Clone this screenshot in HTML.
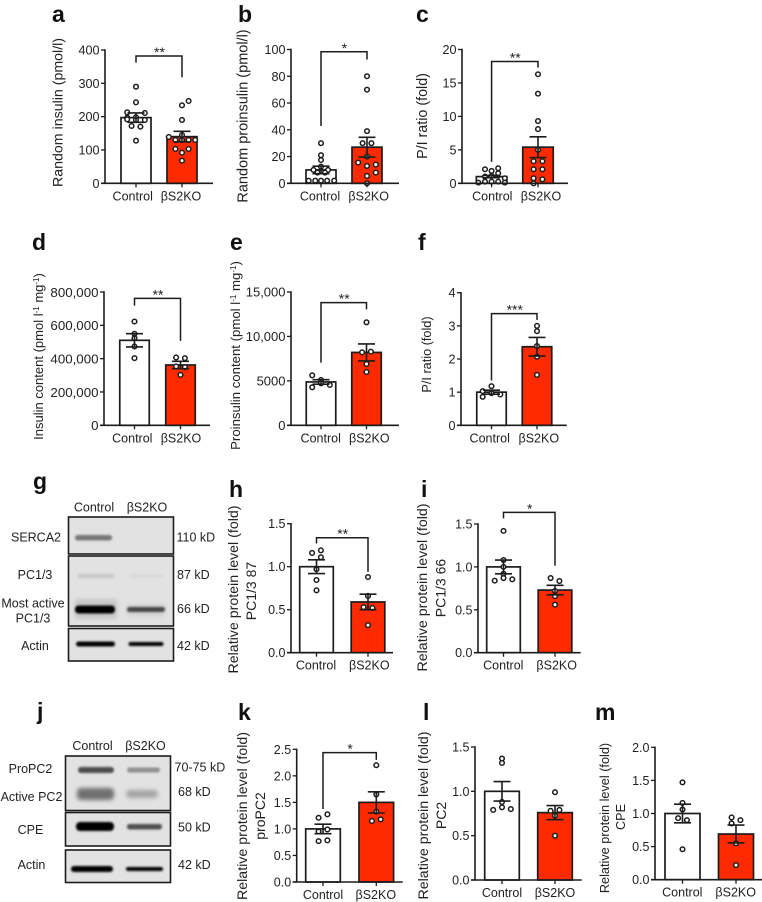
<!DOCTYPE html>
<html lang="en">
<head>
<meta charset="utf-8">
<title>Insulin and proinsulin bar charts with western blots</title>
<style>
html,body{margin:0;padding:0;background:#fff;}
svg{display:block;font-family:"Liberation Sans",Arial,sans-serif;}
text{fill:#222;}
.letter{font-size:23px;font-weight:700;fill:#111;}
.ytitle{font-size:13.3px;text-anchor:middle;}
.blot-label{font-size:12.5px;text-anchor:middle;}
.blot-kd{font-size:12.5px;}
.blot-frame{fill:#e2e2e2;stroke:#1c1c1c;stroke-width:1.6;}
</style>
</head>
<body>
<svg id="figure" width="762" height="902" viewBox="0 0 762 902" xmlns="http://www.w3.org/2000/svg">
<defs>
<filter id="b1" x="-20%" y="-100%" width="140%" height="300%"><feGaussianBlur stdDeviation="1.1"/></filter>
<filter id="b2" x="-20%" y="-100%" width="140%" height="300%"><feGaussianBlur stdDeviation="2"/></filter>
<clipPath id="clipg2"><rect x="68" y="556" width="105" height="70"/></clipPath>
</defs>
<rect width="762" height="902" fill="#fff"/>

<g>
<text class="letter" x="52" y="22">a</text>
<text class="letter" x="238" y="22">b</text>
<text class="letter" x="416" y="22">c</text>
<text class="letter" x="32" y="250">d</text>
<text class="letter" x="230" y="250">e</text>
<text class="letter" x="418" y="250">f</text>
<text class="letter" x="33" y="489">g</text>
<text class="letter" x="229" y="497">h</text>
<text class="letter" x="421" y="497">i</text>
<text class="letter" x="37" y="719">j</text>
<text class="letter" x="238" y="720">k</text>
<text class="letter" x="423" y="720">l</text>
<text class="letter" x="595" y="720">m</text>
</g>

<g>
<text class="ytitle" style="font-size:14.2px" transform="translate(62.5,112.5) rotate(-90)">Random insulin (pmol/l)</text>
<text class="ytitle" style="font-size:14.5px" transform="translate(247.5,116) rotate(-90)">Random proinsulin (pmol/l)</text>
<text class="ytitle" style="font-size:14.3px" transform="translate(427,116) rotate(-90)">P/I ratio (fold)</text>
<text class="ytitle" style="font-size:13px" transform="translate(43,356.5) rotate(-90)">Insulin content (pmol l<tspan font-size="8" dy="-4">-1</tspan><tspan dy="4"> mg</tspan><tspan font-size="8" dy="-4">-1</tspan><tspan dy="4">)</tspan></text>
<text class="ytitle" style="font-size:13.2px" transform="translate(240,355.5) rotate(-90)">Proinsulin content (pmol l<tspan font-size="8" dy="-4">-1</tspan><tspan dy="4"> mg</tspan><tspan font-size="8" dy="-4">-1</tspan><tspan dy="4">)</tspan></text>
<text class="ytitle" style="font-size:12.7px" transform="translate(431,354.5) rotate(-90)">P/I ratio (fold)</text>
<text class="ytitle" style="font-size:14.2px" transform="translate(238,589.5) rotate(-90)">Relative protein level (fold)</text>
<text class="ytitle" style="font-size:14px" transform="translate(256,591) rotate(-90)">PC1/3 87</text>
<text class="ytitle" style="font-size:14.2px" transform="translate(427,587.5) rotate(-90)">Relative protein level (fold)</text>
<text class="ytitle" style="font-size:14px" transform="translate(445.5,588) rotate(-90)">PC1/3 66</text>
<text class="ytitle" style="font-size:14.2px" transform="translate(247,816) rotate(-90)">Relative protein level (fold)</text>
<text class="ytitle" style="font-size:14px" transform="translate(265,816) rotate(-90)">proPC2</text>
<text class="ytitle" style="font-size:14.2px" transform="translate(428,815.5) rotate(-90)">Relative protein level (fold)</text>
<text class="ytitle" style="font-size:14px" transform="translate(446,815.5) rotate(-90)">PC2</text>
<text class="ytitle" style="font-size:12.7px" transform="translate(609,818) rotate(-90)">Relative protein level (fold)</text>
<text class="ytitle" style="font-size:12.7px" transform="translate(625,817) rotate(-90)">CPE</text>
</g>

<g>
<text class="blot-label" x="94" y="511.5">Control</text>
<text class="blot-label" x="147" y="511.5">βS2KO</text>
<rect class="blot-frame" x="68.5" y="517" width="105" height="37"/>
<rect class="blot-frame" x="68.5" y="556" width="105" height="70"/>
<rect class="blot-frame" x="68.5" y="628.5" width="105" height="32.5"/>
<g clip-path="url(#clipg2)">
<rect x="75" y="599" width="42" height="20" fill="#c8c8c8" filter="url(#b2)"/>
<rect x="127" y="604" width="38" height="12" fill="#d2d2d2" filter="url(#b2)"/>
</g>
<rect x="75" y="535" width="37" height="5.5" rx="2.5" fill="#777" filter="url(#b1)"/>
<rect x="78" y="574" width="36" height="4" rx="2" fill="#c6c6c6" filter="url(#b1)"/>
<rect x="130" y="574.5" width="34" height="3" rx="1.5" fill="#d8d8d8" filter="url(#b1)"/>
<rect x="75" y="605.5" width="40" height="8" rx="3.5" fill="#000" filter="url(#b1)"/>
<rect x="127" y="607" width="38" height="5" rx="2.5" fill="#444" filter="url(#b1)"/>
<rect x="76" y="641.5" width="39" height="5" rx="2.5" fill="#000" filter="url(#b1)"/>
<rect x="128.5" y="642" width="35" height="4" rx="2" fill="#000" filter="url(#b1)"/>
<text class="blot-label" x="36" y="541.5">SERCA2</text>
<text class="blot-label" x="35" y="579">PC1/3</text>
<text class="blot-label" x="33" y="607.5">Most active</text>
<text class="blot-label" x="33" y="622.5">PC1/3</text>
<text class="blot-label" x="35" y="650">Actin</text>
<text class="blot-kd" x="176.5" y="541.5">110 kD</text>
<text class="blot-kd" x="177" y="579">87 kD</text>
<text class="blot-kd" x="177" y="613">66 kD</text>
<text class="blot-kd" x="177" y="650">42 kD</text>
</g>

<g>
<text class="blot-label" x="92.5" y="750">Control</text>
<text class="blot-label" x="145.5" y="750">βS2KO</text>
<rect class="blot-frame" x="65.5" y="756" width="105" height="54.5"/>
<rect class="blot-frame" x="65.5" y="812.5" width="105" height="33.5"/>
<rect class="blot-frame" x="65.5" y="850" width="105" height="32.5"/>
<rect x="78" y="767" width="36" height="6" rx="3" fill="#4c4c4c" filter="url(#b1)"/>
<rect x="127" y="767.5" width="33" height="5" rx="2.5" fill="#909090" filter="url(#b1)"/>
<rect x="77" y="788" width="37" height="12" rx="4" fill="#707070" filter="url(#b2)"/>
<rect x="126" y="790" width="32" height="8" rx="4" fill="#a4a4a4" filter="url(#b2)"/>
<rect x="76" y="822" width="38" height="9" rx="4" fill="#000" filter="url(#b1)"/>
<rect x="127" y="824" width="35" height="5.5" rx="2.5" fill="#505050" filter="url(#b1)"/>
<rect x="71" y="866" width="42" height="6" rx="3" fill="#000" filter="url(#b1)"/>
<rect x="126" y="867" width="37" height="4" rx="2" fill="#000" filter="url(#b1)"/>
<text class="blot-label" x="30.5" y="773">ProPC2</text>
<text class="blot-label" x="31.5" y="801">Active PC2</text>
<text class="blot-label" x="30.5" y="834">CPE</text>
<text class="blot-label" x="31.5" y="869">Actin</text>
<text class="blot-kd" x="174.5" y="771.5">70-75 kD</text>
<text class="blot-kd" x="178" y="796">68 kD</text>
<text class="blot-kd" x="178" y="831.5">50 kD</text>
<text class="blot-kd" x="178" y="869">42 kD</text>
</g>
<g id="charts"></g>
</svg>

<script>
const categories = ['Control', 'βS2KO'];

const aTicks = [0, 100, 200, 300, 400];
const aTickLabels = ['0', '100', '200', '300', '400'];
const aMeans = [197, 140];
const aErrors = [14, 16];
const aControlValues = [290, 243, 213, 211, 198, 197, 192, 190, 172, 170, 128, 190];
const aControlSlots = [0, 0, -2, 2, 0, -2, -2, 2, -1, 1, 0, 0];
const aKoValues = [247, 234, 190, 145, 139, 130, 130, 130, 130, 103, 103, 92, 68];
const aKoSlots = [1.5, 0, 0, 0, -3, 3, -1.5, 0, 1.5, -1.5, 1.5, 0, 0];
const aBracket = [382, 362, 318];

const bTicks = [0, 20, 40, 60, 80, 100];
const bTickLabels = ['0', '20', '40', '60', '80', '100'];
const bMeans = [10, 27];
const bErrors = [2.8, 7.4];
const bControlValues = [30, 21, 17.4, 12.4, 10, 10, 8, 8, 2, 2, 2, 2, 2];
const bControlSlots = [0, 0, 0, 0, -1.7, 1.6, -0.8, 0.9, -2.8, -1.3, 0, 1.4, 3];
const bKoValues = [80, 70, 39, 30, 30, 20, 15.5, 13, 14, 8, 5.5, 0];
const bKoSlots = [0, 0, 0, -1, 1, 0, -2, 0, 2, 2, 0, 0];
const bBracket = [98.3, 42.8, 92.5];

const cTicks = [0, 5, 10, 15, 20];
const cTickLabels = ['0', '5', '10', '15', '20'];
const cMeans = [1, 5.4];
const cErrors = [0.17, 1.55];
const cControlValues = [2.1, 1.85, 2.25, 1.5, 1, 1.1, 0.1, 0.25, 0.25, 0.25, 0.75, 0.1];
const cControlSlots = [-1.5, 0, 1.5, 1.5, -1.5, 0, -3, -1.5, 0, 1.5, 3, 3];
const cKoValues = [16.3, 13.4, 9.3, 8.1, 5, 3.3, 3.3, 2.1, 2.1, 0.75, 0.6, 0];
const cKoSlots = [0, 0, 0, 0, 0, -1, 1, -1, 1, -1, 1, -1];
const cBracket = [18.2, 3.2, 17.3];

const dTicks = [0, 200000, 400000, 600000, 800000];
const dTickLabels = ['0', '200,000', '400,000', '600,000', '800,000'];
const dMeans = [510000, 362000];
const dErrors = [40000, 22000];
const dControlValues = [623000, 549000, 523000, 473000, 403000];
const dControlSlots = [0, 0, 0, 0, 0];
const dKoValues = [407000, 403000, 353000, 349000, 303000];
const dKoSlots = [-1, 1, -1, 1, 0];
const dBracket = [762000, 718000, 507000];

const eTicks = [0, 5000, 10000, 15000];
const eTickLabels = ['0', '5000', '10,000', '15,000'];
const eMeans = [4880, 8200];
const eErrors = [250, 960];
const eControlValues = [5625, 5100, 4275, 4725, 4540];
const eControlSlots = [-2, 0, -2, 0, 2];
const eKoValues = [11590, 8210, 8290, 6900, 6000];
const eKoSlots = [0, -1, 1, 0, 0];
const eBracket = [13800, 7050, 13050];

const fTicks = [0, 1, 2, 3, 4];
const fTickLabels = ['0', '1', '2', '3', '4'];
const fMeans = [1, 2.37];
const fErrors = [0.06, 0.28];
const fControlValues = [1.18, 1.03, 0.97, 0.86, 0.93];
const fControlSlots = [0, -2, 0, -2, 2];
const fKoValues = [3, 2.84, 2.39, 2.07, 1.52];
const fKoSlots = [0, 0, 0, 0, 0];
const fBracket = [3.37, 1.35, 3.18];

const hTicks = [0, 0.5, 1, 1.5];
const hTickLabels = ['0.0', '0.5', '1.0', '1.5'];
const hMeans = [1, 0.59];
const hErrors = [0.08, 0.09];
const hControlValues = [1.19, 1.16, 1.11, 0.97, 0.845, 0.725];
const hControlSlots = [1, -1, 1, 0, 0, 0];
const hKoValues = [0.88, 0.66, 0.53, 0.52, 0.32];
const hKoSlots = [0, 0, -1, 1, 0];
const hBracket = [1.337, 1.27, 0.94];

const iTicks = [0, 0.5, 1, 1.5];
const iTickLabels = ['0.0', '0.5', '1.0', '1.5'];
const iMeans = [1, 0.73];
const iErrors = [0.08, 0.055];
const iControlValues = [1.42, 1.08, 1, 0.92, 0.87, 0.84, 0.855];
const iControlSlots = [0, 0, 0, 0, 0, -2, 2];
const iKoValues = [0.87, 0.835, 0.72, 0.66, 0.56];
const iKoSlots = [-1, 1, 0, 0, 0];
const iBracket = [1.636, 1.566, 1.014];

const kTicks = [0, 0.5, 1, 1.5, 2, 2.5];
const kTickLabels = ['0.0', '0.5', '1.0', '1.5', '2.0', '2.5'];
const kMeans = [1, 1.5];
const kErrors = [0.09, 0.2];
const kControlValues = [1.21, 1.275, 0.95, 0.99, 0.77, 0.785];
const kControlSlots = [-1, 1, -1, 1, -1, 1];
const kKoValues = [2.2, 1.65, 1.325, 1.15, 1.18];
const kKoSlots = [0, 0, 0, -1, 1];
const kBracket = [2.437, 1.376, 2.3];

const lTicks = [0, 0.5, 1, 1.5];
const lTickLabels = ['0.0', '0.5', '1.0', '1.5'];
const lMeans = [1, 0.76];
const lErrors = [0.11, 0.08];
const lControlValues = [1.37, 1.32, 0.88, 0.82, 0.79, 0.8];
const lControlSlots = [0, 0, 0, 0, -2, 2];
const lKoValues = [0.99, 0.78, 0.79, 0.725, 0.5];
const lKoSlots = [0, -1, 1, 0, 0];
const lBracket = null;

const mTicks = [0, 0.5, 1, 1.5, 2];
const mTickLabels = ['0.0', '0.5', '1.0', '1.5', '2.0'];
const mMeans = [1, 0.69];
const mErrors = [0.14, 0.135];
const mControlValues = [1.47, 1.16, 1.06, 0.93, 0.9, 0.46];
const mControlSlots = [0, 0, 0, -1, 1, 0];
const mKoValues = [0.94, 0.9, 0.85, 0.55, 0.22];
const mKoSlots = [-1, 1, -1, 0, 0];
const mBracket = null;

const SVGNS = 'http://www.w3.org/2000/svg';
const INK = '#1c1c1c';
const RED = '#ff2a00';
const SLOT_STEP = 4.4;

function make(tag, attrs, parent) {
  const node = document.createElementNS(SVGNS, tag);
  Object.keys(attrs).forEach(function (k) { node.setAttribute(k, attrs[k]); });
  parent.appendChild(node);
  return node;
}

function drawPanel(p) {
  const root = document.getElementById('charts');
  const g = make('g', {}, root);
  
  

  const yMax = p.ticks[p.ticks.length - 1];
  const yScale = function (v) { return p.y0 - (v / yMax) * (p.y0 - p.yTop); };
  const xScale = function (i) { return p.centers[i]; };

  p.means.forEach(function (m, i) {
    const bar = make('rect', {
      x: xScale(i) - p.barW / 2, y: yScale(m), width: p.barW, height: p.y0 - yScale(m),
      fill: i === 0 ? '#fff' : RED, stroke: INK, 'stroke-width': 1.7
    }, g);
    
    
  });

  [[p.control, p.controlSlots, 0], [p.ko, p.koSlots, 1]].forEach(function (s) {
    s[0].forEach(function (v, j) {
      const dot = make('circle', {
        cx: xScale(s[2]) + s[1][j] * SLOT_STEP, cy: yScale(v), r: 2.3,
        fill: '#fff', stroke: INK, 'stroke-width': 1.5
      }, g);
      
      
    });
  });

  p.means.forEach(function (m, i) {
    const cx = xScale(i);
    const hi = yScale(m + p.errors[i]);
    const lo = yScale(m - p.errors[i]);
    const err = make('path', {
      d: 'M' + (cx - 8.5) + ' ' + hi + 'H' + (cx + 8.5) + 'M' + cx + ' ' + hi + 'V' + lo +
         'M' + (cx - 8.5) + ' ' + lo + 'H' + (cx + 8.5),
      fill: 'none', stroke: INK, 'stroke-width': 1.6
    }, g);
    
    
  });

  const yAxis = make('path', {
    d: 'M' + p.axisX + ' ' + (p.yTop - 0.7) + 'V' + p.y0,
    fill: 'none', stroke: INK, 'stroke-width': 1.6
  }, g);
  
  

  const xAxis = make('path', {
    d: 'M' + (p.axisX - 4) + ' ' + p.y0 + 'H' + p.xEnd,
    fill: 'none', stroke: INK, 'stroke-width': 1.6
  }, g);
  
  

  p.ticks.forEach(function (t, i) {
    const tick = make('path', {
      d: 'M' + (p.axisX - 4) + ' ' + yScale(t) + 'H' + p.axisX,
      fill: 'none', stroke: INK, 'stroke-width': 1.3
    }, g);
    
    

    const label = make('text', {
      x: p.axisX - 5.5, y: yScale(t) + p.tickFont * 0.36, 'text-anchor': 'end',
      'font-size': p.tickFont
    }, g);
    label.textContent = p.tickLabels[i];
    
    
  });

  categories.forEach(function (c, i) {
    const tick = make('path', {
      d: 'M' + xScale(i) + ' ' + p.y0 + 'V' + (p.y0 + 4),
      fill: 'none', stroke: INK, 'stroke-width': 1.3
    }, g);
    
    

    const label = make('text', {
      x: xScale(i) + p.labelShift[i], y: p.y0 + 17, 'text-anchor': 'middle', 'font-size': 12.5
    }, g);
    label.textContent = c;
    
    
  });

  if (p.bracket) {
    const top = yScale(p.bracket[0]);
    const bracket = make('path', {
      d: 'M' + xScale(0) + ' ' + yScale(p.bracket[1]) + 'V' + top + 'H' + xScale(1) + 'V' + yScale(p.bracket[2]),
      fill: 'none', stroke: INK, 'stroke-width': 1.5
    }, g);
    
    

    const stars = make('text', {
      x: (xScale(0) + xScale(1)) / 2 + 0.5, y: top + 1, 'text-anchor': 'middle', 'font-size': 14
    }, g);
    stars.textContent = p.stars;
    
    
  }
}

drawPanel({ id: 'a', axisX: 105, yTop: 50, y0: 183.3, xEnd: 213, centers: [136, 182], barW: 30, tickFont: 12.6, labelShift: [-3.3, -1], ticks: aTicks, tickLabels: aTickLabels, means: aMeans, errors: aErrors, control: aControlValues, controlSlots: aControlSlots, ko: aKoValues, koSlots: aKoSlots, bracket: aBracket, stars: '**' });
drawPanel({ id: 'b', axisX: 291, yTop: 49.5, y0: 183.3, xEnd: 399, centers: [321, 367], barW: 30, tickFont: 12.6, labelShift: [-1, 1.7], ticks: bTicks, tickLabels: bTickLabels, means: bMeans, errors: bErrors, control: bControlValues, controlSlots: bControlSlots, ko: bKoValues, koSlots: bKoSlots, bracket: bBracket, stars: '*' });
drawPanel({ id: 'c', axisX: 462, yTop: 49.5, y0: 183.3, xEnd: 568, centers: [491.6, 538], barW: 30.5, tickFont: 12.6, labelShift: [0.7, 3], ticks: cTicks, tickLabels: cTickLabels, means: cMeans, errors: cErrors, control: cControlValues, controlSlots: cControlSlots, ko: cKoValues, koSlots: cKoSlots, bracket: cBracket, stars: '**' });
drawPanel({ id: 'd', axisX: 104, yTop: 292, y0: 425.3, xEnd: 210, centers: [134.5, 180.5], barW: 29.5, tickFont: 13.3, labelShift: [-2.2, 0.5], ticks: dTicks, tickLabels: dTickLabels, means: dMeans, errors: dErrors, control: dControlValues, controlSlots: dControlSlots, ko: dKoValues, koSlots: dKoSlots, bracket: dBracket, stars: '**' });
drawPanel({ id: 'e', axisX: 291, yTop: 292, y0: 425.3, xEnd: 399, centers: [321, 366.5], barW: 29.5, tickFont: 13, labelShift: [-0.3, 2.8], ticks: eTicks, tickLabels: eTickLabels, means: eMeans, errors: eErrors, control: eControlValues, controlSlots: eControlSlots, ko: eKoValues, koSlots: eKoSlots, bracket: eBracket, stars: '**' });
drawPanel({ id: 'f', axisX: 461, yTop: 292.7, y0: 425.3, xEnd: 566.7, centers: [491.5, 537], barW: 29.5, tickFont: 12.6, labelShift: [-1.8, 1.8], ticks: fTicks, tickLabels: fTickLabels, means: fMeans, errors: fErrors, control: fControlValues, controlSlots: fControlSlots, ko: fKoValues, koSlots: fKoSlots, bracket: fBracket, stars: '***' });
drawPanel({ id: 'h', axisX: 291, yTop: 523.7, y0: 652.7, xEnd: 393, centers: [316.5, 368], barW: 33.6, tickFont: 12.5, labelShift: [-0.5, 1.3], ticks: hTicks, tickLabels: hTickLabels, means: hMeans, errors: hErrors, control: hControlValues, controlSlots: hControlSlots, ko: hKoValues, koSlots: hKoSlots, bracket: hBracket, stars: '**' });
drawPanel({ id: 'i', axisX: 478, yTop: 524, y0: 652.7, xEnd: 580.7, centers: [503.5, 555], barW: 33.6, tickFont: 12.5, labelShift: [-0.2, 1.7], ticks: iTicks, tickLabels: iTickLabels, means: iMeans, errors: iErrors, control: iControlValues, controlSlots: iControlSlots, ko: iKoValues, koSlots: iKoSlots, bracket: iBracket, stars: '*' });
drawPanel({ id: 'k', axisX: 296.7, yTop: 749.3, y0: 882, xEnd: 402.7, centers: [323, 376.3], barW: 34.6, tickFont: 12.5, labelShift: [0, -0.5], ticks: kTicks, tickLabels: kTickLabels, means: kMeans, errors: kErrors, control: kControlValues, controlSlots: kControlSlots, ko: kKoValues, koSlots: kKoSlots, bracket: kBracket, stars: '*' });
drawPanel({ id: 'l', axisX: 475, yTop: 747, y0: 880, xEnd: 581.7, centers: [502, 555], barW: 34.6, tickFont: 12.5, labelShift: [0, 0], ticks: lTicks, tickLabels: lTickLabels, means: lMeans, errors: lErrors, control: lControlValues, controlSlots: lControlSlots, ko: lKoValues, koSlots: lKoSlots, bracket: lBracket, stars: '' });
drawPanel({ id: 'm', axisX: 655, yTop: 747.3, y0: 879.7, xEnd: 762, centers: [682.5, 736], barW: 35, tickFont: 12.5, labelShift: [-0.2, -0.3], ticks: mTicks, tickLabels: mTickLabels, means: mMeans, errors: mErrors, control: mControlValues, controlSlots: mControlSlots, ko: mKoValues, koSlots: mKoSlots, bracket: mBracket, stars: '' });
</script>
</body>
</html>
